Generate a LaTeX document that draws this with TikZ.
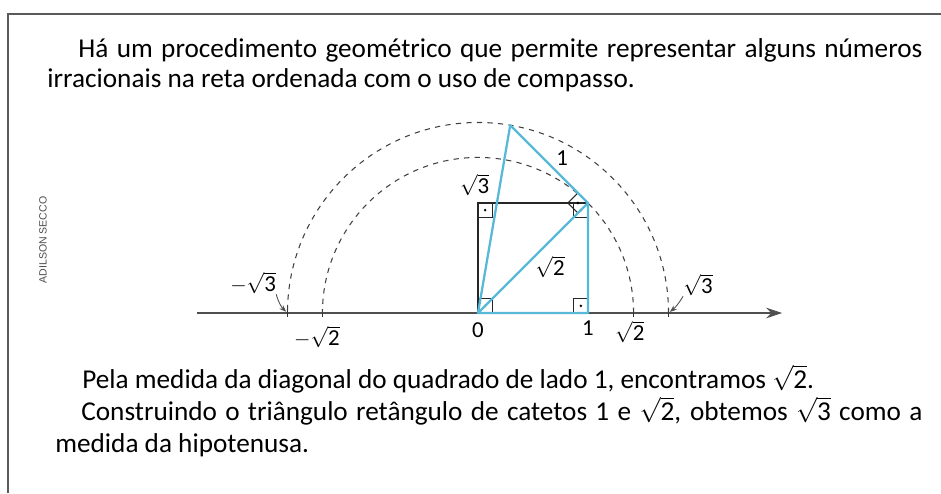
\documentclass[tikz,border=0pt]{standalone}
\usepackage{fontspec}
\setmainfont{Carlito}
\newfontfamily\creditfont{Liberation Sans}
\usetikzlibrary{arrows.meta, positioning, calc}
\definecolor{segblue}{RGB}{88,184,216}
\definecolor{axisgray}{RGB}{80,80,80}
\definecolor{framegray}{RGB}{90,90,90}
\newcommand{\raiz}[1]{\sqrt{\mbox{#1}}}

\begin{document}
\begin{tikzpicture}[
  every node/.style={inner sep=0pt},
  txt/.style={anchor=base west, font=\fontsize{15.5}{18}\selectfont},
  lbl/.style={font=\fontsize{13}{15}\selectfont},
  blueseg/.style={draw=segblue, line width=1.3pt, line join=round},
  sqline/.style={draw=black!85, line width=0.8pt},
  rtmark/.style={draw=black!85, line width=0.6pt},
  compass/.style={draw=black!75, line width=0.6pt, dash pattern=on 3pt off 3pt},
  ptr/.style={-{Stealth[length=4pt,width=3pt]}, line width=0.5pt, draw=axisgray}
]
\useasboundingbox (0,0) rectangle (18.82,9.86);
\draw[framegray, line width=0.9pt] (0.16,0) -- (0.16,9.58) -- (18.82,9.58);

\node[txt] (intro1) at (1.56,8.706)
  {\makebox[16.88cm][s]{Há um procedimento geométrico que permite representar alguns números}};
\node[txt] (intro2) at (0.94,8.12) {irracionais na reta ordenada com o uso de compasso.};
\node[txt] (pela) at (1.64,2.10)
  {Pela medida da diagonal do quadrado de lado 1, encontramos $\raiz{2}$.};
\node[txt] (cons1) at (1.62,1.46)
  {\makebox[16.82cm][s]{Construindo o triângulo retângulo de catetos 1 e $\raiz{2}$, obtemos $\raiz{3}$ como a}};
\node[txt] (cons2) at (1.10,0.82) {medida da hipotenusa.};
\node[rotate=90, text=black!70, font=\creditfont\fontsize{6}{7}\selectfont] (credit) at (0.86,5.06) {ADILSON SECCO};

\begin{scope}[shift={(9.56,3.6)}, x=2.2cm, y=2.2cm]
  \coordinate (O) at (0,0);
  \coordinate (A) at (1,0);
  \coordinate (B) at (1,1);
  \coordinate (C) at (0,1);
  \coordinate (P) at ({1-sqrt(2)/2},{1+sqrt(2)/2});
  \coordinate (n3) at ({-sqrt(3)},0);
  \coordinate (n2) at ({-sqrt(2)},0);
  \coordinate (p2) at ({sqrt(2)},0);
  \coordinate (p3) at ({sqrt(3)},0);
  \coordinate (axstart) at (-2.555,0);
  \coordinate (axend) at (2.764,0);

  % reta ordenada
  \draw[axisgray, line width=0.6pt, -{Stealth[length=9pt,width=6pt]}] (axstart) -- (axend);
  \foreach \t in {n3,n2,p2,p3}
    \draw[black!80, line width=0.6pt] ($(\t)+(0,0.04)$) -- ($(\t)+(0,-0.04)$);

  % arcos do compasso
  \draw[compass] (p3) arc[start angle=0, end angle=180, radius={sqrt(3)}];
  \draw[compass] (p2) arc[start angle=0, end angle=180, radius={sqrt(2)}];

  \draw[sqline] (O) -- (C) -- (B);

  % angulos retos
  \foreach \c/\dx/\dy in {O/1/1, A/-1/1, B/-1/-1, C/1/-1} {
    \draw[rtmark] (\c) rectangle ++(0.13*\dx,0.13*\dy);
    \fill ($(\c)+(0.065*\dx,0.065*\dy)$) circle (0.8pt);
  }
  \draw[rtmark] (B) -- ++(225:0.13) -- ++(135:0.13) -- ++(45:0.13);
  \fill ($(B)+(180:0.092)$) circle (0.8pt);

  \draw[blueseg] (O) -- (A) -- (B) -- cycle;
  \draw[blueseg] (B) -- (P) -- (O);

  \node[lbl] (lm3) at (-2.045,0.273) {$-\raiz{3}$};
  \node[lbl] (lm2) at (-1.464,-0.218) {$-\raiz{2}$};
  \node[lbl] (l0) at (0,-0.155) {0};
  \node[lbl] (l1) at (1.0,-0.136) {1};
  \node[lbl] (lp2) at (1.38,-0.17) {$\raiz{2}$};
  \node[lbl] (lp3) at (2.0,0.255) {$\raiz{3}$};
  \node[lbl] (lleg3) at (-0.03,1.164) {$\raiz{3}$};
  \node[lbl] (lone) at (0.764,1.41) {1};
  \node[lbl] (ldiag) at (0.655,0.418) {$\raiz{2}$};

  \draw[ptr, shorten >=1pt] (lm3.south east) to[bend right=15] (n3);
  \draw[ptr, shorten >=1pt] (lp3.south west) to[bend left=10] (p3);
\end{scope}
\end{tikzpicture}
\end{document}
